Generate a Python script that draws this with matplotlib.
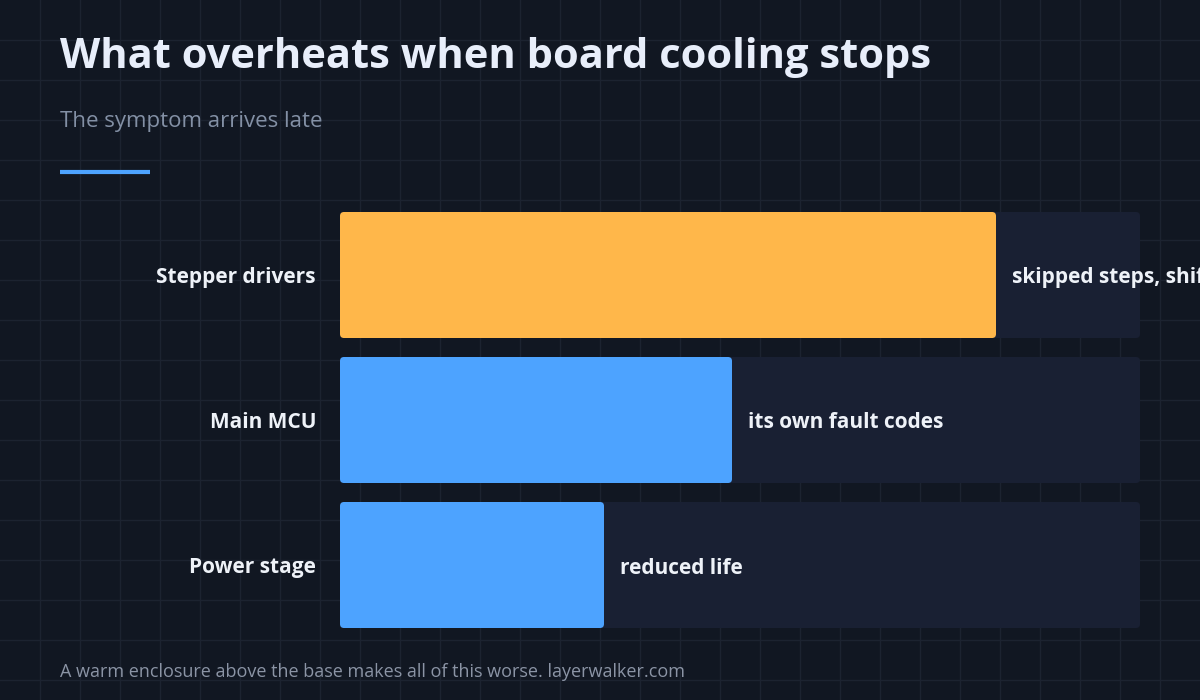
import matplotlib
matplotlib.use("Agg")
import matplotlib.pyplot as plt
from matplotlib.patches import FancyBboxPatch
import matplotlib.transforms as mtransforms

categories = ["Stepper drivers", "Main MCU", "Power stage"]
values = [82, 49, 33]
notes = ["skipped steps, shifted layers", "its own fault codes", "reduced life"]
colors = ["#ffb74a", "#4da3ff", "#4da3ff"]

plt.rcParams['font.family'] = ['Open Sans', 'DejaVu Sans']
BG = "#111722"
fig = plt.figure(figsize=(12, 7), dpi=100, facecolor=BG)

bg = fig.add_axes([0, 0, 1, 1])
bg.set_xlim(0, 1200); bg.set_ylim(700, 0); bg.axis("off")
bg.set_facecolor(BG)
for x in range(40, 1200, 40):
    bg.axvline(x, color="#1c2330", lw=1, zorder=0)
for y in range(40, 700, 40):
    bg.axhline(y, color="#1c2330", lw=1, zorder=0)
bg.text(60, 57, "What overheats when board cooling stops", color="#e8eefa",
        fontsize=30, fontweight="bold", va="center", ha="left")
bg.text(60, 122, "The symptom arrives late", color="#8390a5", fontsize=16,
        va="center", ha="left")
bg.plot([60, 150], [172, 172], color="#4da3ff", lw=3, solid_capstyle="butt")
bg.text(60, 672, "A warm enclosure above the base makes all of this worse. layerwalker.com",
        color="#8b94a5", fontsize=13, va="center", ha="left")

ax = fig.add_axes([340/1200, 72/700, 800/1200, 416/700])
ax.set_xlim(0, 100); ax.set_ylim(416, 0); ax.axis("off")
ax.patch.set_alpha(0)
rowh, step = 126, 145
for i, (c, v, n, col) in enumerate(zip(categories, values, notes, colors)):
    top = i * step
    ax.add_patch(FancyBboxPatch((0, top), 100, rowh,
                 boxstyle="round,pad=0,rounding_size=0.5", mutation_aspect=8,
                 fc="#192033", ec="none", zorder=1))
    ax.add_patch(FancyBboxPatch((0, top), v, rowh,
                 boxstyle="round,pad=0,rounding_size=0.5", mutation_aspect=8,
                 fc=col, ec="none", zorder=2))
    tl = ax.transData + mtransforms.ScaledTranslation(-24/100, -3/100, fig.dpi_scale_trans)
    ax.text(0, top + rowh/2, c, transform=tl, ha="right", va="center",
            color="#eef2f8", fontsize=15, fontweight="bold")
    tr = ax.transData + mtransforms.ScaledTranslation(16/100, -3/100, fig.dpi_scale_trans)
    ax.text(v, top + rowh/2, n, transform=tr, ha="left", va="center",
            color="#eef2f8", fontsize=15, fontweight="bold", clip_on=False)

fig.savefig("out.png", dpi=100, facecolor=BG)
